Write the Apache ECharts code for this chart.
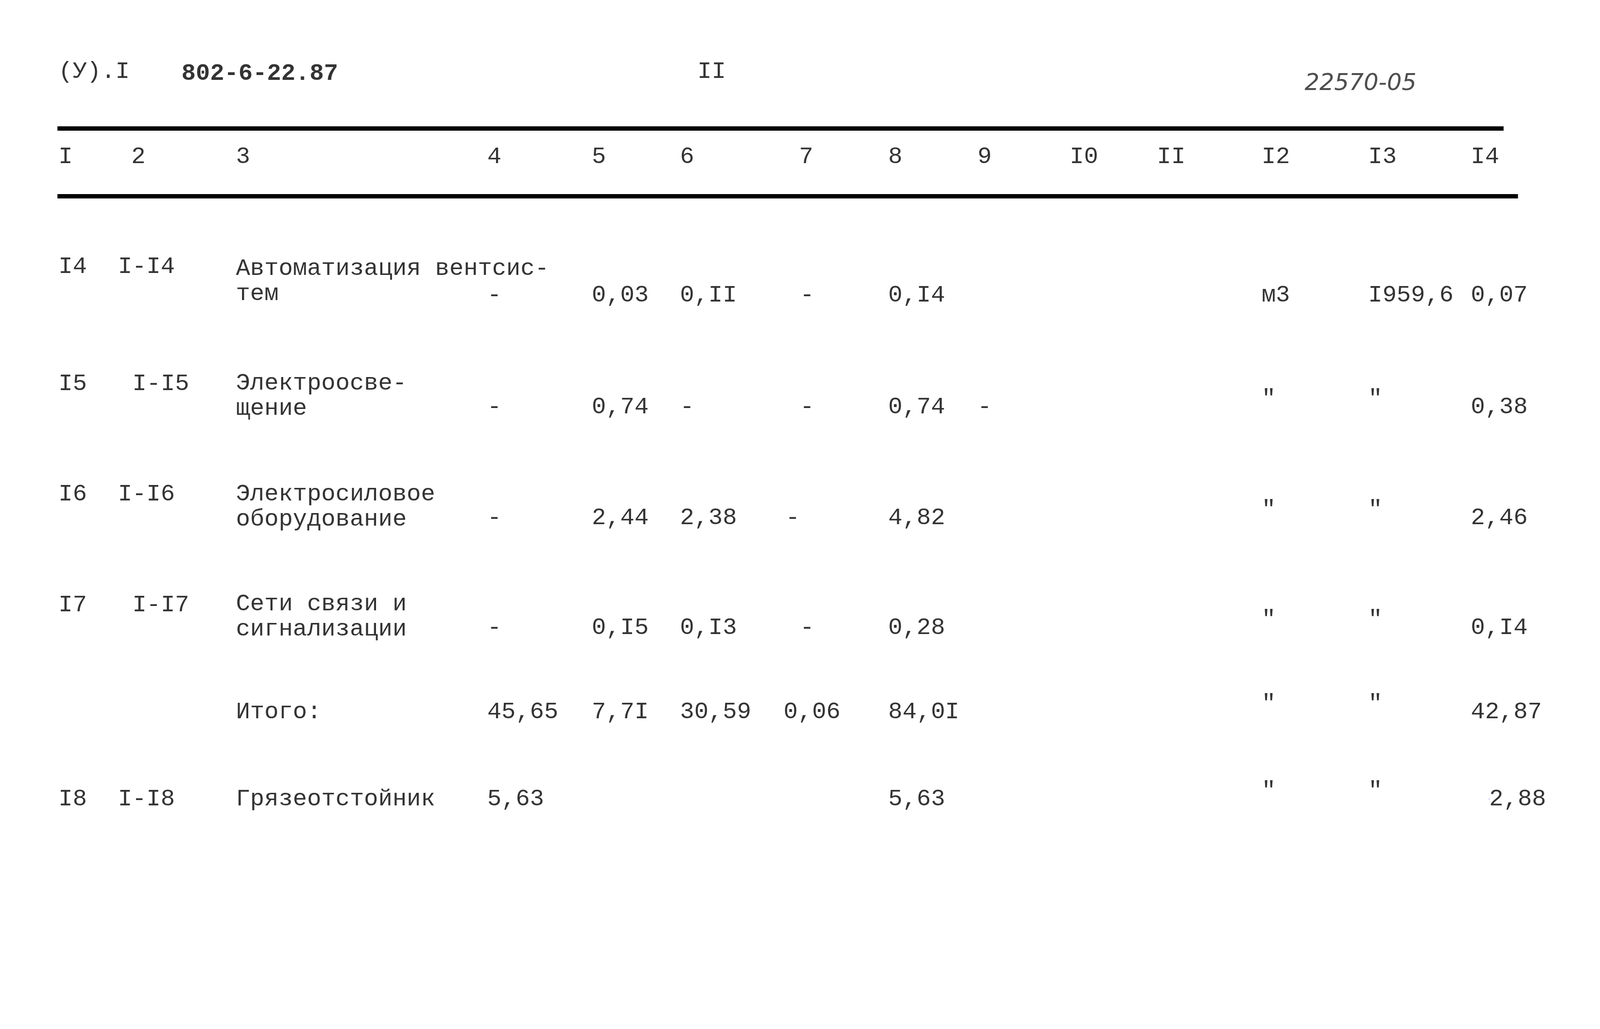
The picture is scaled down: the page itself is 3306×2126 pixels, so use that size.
<!DOCTYPE html>
<html><head><meta charset="utf-8">
<script src="https://cdn.jsdelivr.net/npm/echarts@6/dist/echarts.min.js"></script>
<style>html,body{margin:0;background:#fff}#c{width:3306px;height:2126px}</style>
</head><body><div id="c"></div>
<script>
// ---- data ----
const headerNums = ["I","2","3","4","5","6","7","8","9","I0","II","I2","I3","I4"];
const rowNums  = ["I4","I5","I6","I7","","I8"];
const rowCodes = ["I-I4","I-I5","I-I6","I-I7","","I-I8"];
const names    = ["Автоматизация вентсис-\nтем","Электроосве-\nщение","Электросиловое\nоборудование","Сети связи и\nсигнализации","Итого:","Грязеотстойник"];
const col4  = ["-","-","-","-","45,65","5,63"];
const col5  = ["0,03","0,74","2,44","0,I5","7,7I",""];
const col6  = ["0,II","-","2,38","0,I3","30,59",""];
const col7  = ["-","-","-","-","0,06",""];
const col8  = ["0,I4","0,74","4,82","0,28","84,0I","5,63"];
const col9  = ["","-","","","",""];
const col12 = ["м3","\"","\"","\"","\"","\""];
const col13 = ["I959,6","\"","\"","\"","\"","\""];
const col14 = ["0,07","0,38","2,46","0,I4","42,87","2,88"];

// ---- layout (displayed units, scale 2.12) ----
const S = 3306/1560;
const hdrX = [57,128,230,475,577,663,779,866,953,1043,1128,1230,1334,1434];
const rowY = [288,397,505,612,694,779];
const numY = [260,374,482,590,694,779];
const nameY = [274,386,494,601,694,779];
const numX = [57,57,57,57,57,57];
const codeX = [115,129,115,129,115,115];
const c4X=475,c5X=577,c6X=663,c7X=[780,780,766,780,764,780],c8X=866,c9X=953,c12X=1230,c13X=[1334,1334,1334,1334,1334,1334],c14X=[1434,1434,1434,1434,1434,1452];
const font = "'Liberation Mono', 'DejaVu Sans Mono', monospace";

const pts = [];
function add(x,y,t,extra){ if(t!=="") pts.push(Object.assign({value:[x,y,t]},extra||{})); }
hdrX.forEach((x,i)=>add(x,153,headerNums[i]));
add(57,70,"(У).I");
add(177,72,"802-6-22.87",{label:{fontWeight:'bold'}});
add(680,70,"II");
add(1272,82,"22570-05",{label:{fontStyle:'italic',fontFamily:"'DejaVu Sans', sans-serif",fontSize:48,color:'#222'}});
for(let r=0;r<6;r++){
  add(numX[r],numY[r],rowNums[r]);
  add(codeX[r],numY[r],rowCodes[r]);
  add(230,nameY[r],names[r]);
  add(c4X,rowY[r],col4[r]); add(c5X,rowY[r],col5[r]); add(c6X,rowY[r],col6[r]);
  add(c7X[r],rowY[r],col7[r]); add(c8X,rowY[r],col8[r]); add(c9X,rowY[r],col9[r]);
  add(c12X,rowY[r]-(col12[r]==='"'?8:0),col12[r]);
  add(c13X[r],rowY[r]-(col13[r]==='"'?8:0),col13[r]);
  add(c14X[r],rowY[r],col14[r]);
}
pts.forEach(p=>{p.value[0]*=S;p.value[1]*=S;});

const chart = echarts.init(document.getElementById('c'));
chart.setOption({
  backgroundColor:'#fff',
  animation:false,
  grid:{left:0,right:0,top:0,bottom:0},
  xAxis:{type:'value',min:0,max:3306,show:false},
  yAxis:{type:'value',min:0,max:2126,inverse:true,show:false},
  series:[{
    type:'scatter',symbolSize:0,data:pts,
    label:{show:true,position:'inside',align:'left',verticalAlign:'middle',
      formatter:p=>p.value[2],fontFamily:font,fontSize:49,lineHeight:52,color:'#000'}
  },{
    type:'lines',coordinateSystem:'cartesian2d',polyline:false,silent:true,
    lineStyle:{color:'#000',width:9,opacity:1},
    data:[{coords:[[56*S,125*S],[1466*S,125*S]]},{coords:[[56*S,191*S],[1480*S,191*S]]}]
  }]
});
</script></body></html>
